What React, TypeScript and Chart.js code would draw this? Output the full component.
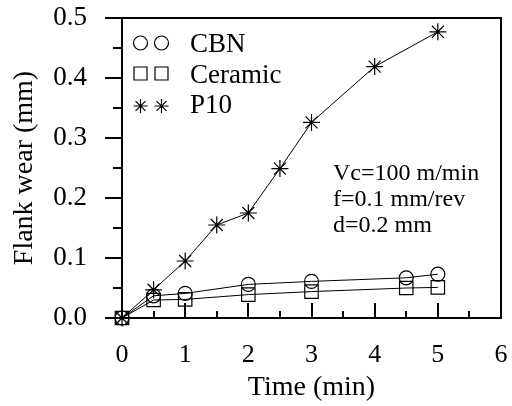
import { useEffect, useRef } from "react";
import { Chart, registerables } from "chart.js";

Chart.register(...registerables);

const cbnTime = [0, 0.5, 1, 2, 3, 4.5, 5];
const cbnWear = [0, 0.037, 0.041, 0.056, 0.061, 0.067, 0.073];
const ceramicTime = [0, 0.5, 1, 2, 3, 4.5, 5];
const ceramicWear = [0, 0.03, 0.031, 0.039, 0.044, 0.05, 0.051];
const p10Time = [0, 0.5, 1, 1.5, 2, 2.5, 3, 4, 5];
const p10Wear = [0, 0.047, 0.095, 0.155, 0.175, 0.249, 0.326, 0.419, 0.477];

const seriesNames = ["CBN", "Ceramic", "P10"];
const xMinorTicks = [0.5, 1, 1.5, 2, 2.5, 3, 3.5, 4, 4.5, 5, 5.5];
const yMinorTicks = [0.05, 0.15, 0.25, 0.35, 0.45];
const yMajorTicks = [0, 0.1, 0.2, 0.3, 0.4, 0.5];
const notes = ["Vc=100 m/min", "f=0.1 mm/rev", "d=0.2 mm"];

const FONT = "'Liberation Serif', 'Times New Roman', serif";

function drawMarker(ctx: CanvasRenderingContext2D, kind: string, x: number, y: number, r: number) {
  ctx.beginPath();
  if (kind === "circle") {
    ctx.arc(x, y, r, 0, Math.PI * 2);
  } else if (kind === "rect") {
    ctx.rect(x - r, y - r, 2 * r, 2 * r);
  } else {
    for (let i = 0; i < 4; i++) {
      const a = (i * Math.PI) / 4;
      ctx.moveTo(x - Math.cos(a) * r, y - Math.sin(a) * r);
      ctx.lineTo(x + Math.cos(a) * r, y + Math.sin(a) * r);
    }
  }
  ctx.stroke();
}

const framePlugin = {
  id: "frame",
  beforeDatasetsDraw(chart: any) {
    const { ctx, chartArea: a, scales } = chart;
    const xs = scales.x;
    const ys = scales.y;
    ctx.save();
    ctx.strokeStyle = "#000";
    ctx.lineWidth = 2;
    ctx.strokeRect(a.left, a.top, a.right - a.left, a.bottom - a.top);
    ctx.beginPath();
    for (const v of xMinorTicks) {
      const px = Math.round(xs.getPixelForValue(v));
      const len = Number.isInteger(v) ? 15 : 7;
      ctx.moveTo(px, a.bottom);
      ctx.lineTo(px, a.bottom - len);
    }
    for (const v of yMajorTicks) {
      const py = Math.round(ys.getPixelForValue(v));
      ctx.moveTo(a.left, py);
      ctx.lineTo(a.left - 17, py);
    }
    for (const v of yMinorTicks) {
      const py = Math.round(ys.getPixelForValue(v));
      ctx.moveTo(a.left, py);
      ctx.lineTo(a.left - 9, py);
    }
    ctx.stroke();

    // legend
    const kinds = ["circle", "rect", "star"];
    const markerY = [43, 73.5, 106];
    const textY = [52, 82.5, 113];
    const sizes = [7, 6.5, 7];
    ctx.lineWidth = 1.2;
    kinds.forEach((k, i) => {
      drawMarker(ctx, k, 140.5, markerY[i], sizes[i]);
      drawMarker(ctx, k, 161.5, markerY[i], sizes[i]);
    });
    ctx.fillStyle = "#000";
    ctx.font = `27px ${FONT}`;
    ctx.textBaseline = "alphabetic";
    ctx.textAlign = "left";
    seriesNames.forEach((n, i) => ctx.fillText(n, 190, textY[i]));

    // annotation
    ctx.font = `24px ${FONT}`;
    notes.forEach((t, i) => ctx.fillText(t, 333, 180 + i * 26));
    ctx.restore();
  },
};

export default function App() {
  const ref = useRef<HTMLCanvasElement | null>(null);
  useEffect(() => {
    document.body.style.margin = "0";
    const canvas = ref.current;
    if (!canvas) return;
    const common = {
      borderColor: "#000",
      borderWidth: 1,
      pointBorderColor: "#000",
      pointBackgroundColor: "rgba(0,0,0,0)",
      pointBorderWidth: 1.2,
      showLine: true,
      tension: 0,
      clip: false,
    };
    const chart = new Chart(canvas, {
      type: "scatter",
      data: {
        datasets: [
          {
            ...common,
            label: seriesNames[0],
            data: cbnTime.map((t, i) => ({ x: t, y: cbnWear[i] })),
            pointStyle: "circle",
            pointRadius: 7,
          },
          {
            ...common,
            label: seriesNames[1],
            data: ceramicTime.map((t, i) => ({ x: t, y: ceramicWear[i] })),
            pointStyle: "rect",
            pointRadius: 9.5,
          },
          {
            ...common,
            label: seriesNames[2],
            data: p10Time.map((t, i) => ({ x: t, y: p10Wear[i] })),
            pointStyle: "star",
            pointRadius: 8.5,
          },
        ],
      },
      options: {
        responsive: false,
        animation: false,
        layout: { padding: { top: 18, right: 11, left: 0, bottom: 0 } },
        plugins: { legend: { display: false }, tooltip: { enabled: false } },
        scales: {
          x: {
            type: "linear",
            min: 0,
            max: 6,
            grid: { display: false, drawTicks: false },
            border: { display: false },
            ticks: {
              stepSize: 1,
              color: "#000",
              font: { family: FONT, size: 26 },
              padding: 22,
              maxRotation: 0,
            },
            title: {
              display: true,
              text: "Time (min)",
              color: "#000",
              font: { family: FONT, size: 28 },
              padding: { top: 0, bottom: 2 },
            },
            afterFit: (s: any) => {
              s.height = 88;
              s.paddingLeft = 0;
              s.paddingRight = 0;
            },
          },
          y: {
            type: "linear",
            min: 0,
            max: 0.5,
            grid: { display: false, drawTicks: false },
            border: { display: false },
            ticks: {
              stepSize: 0.1,
              color: "#000",
              font: { family: FONT, size: 27 },
              padding: 35,
              callback: (v: any) => Number(v).toFixed(1),
            },
            title: {
              display: true,
              text: "Flank wear (mm)",
              color: "#000",
              font: { family: FONT, size: 28 },
              padding: { top: 8, bottom: 0 },
            },
            afterFit: (s: any) => {
              s.width = 122;
              s.paddingTop = 0;
              s.paddingBottom = 0;
            },
          },
        },
      },
      plugins: [framePlugin],
    } as any);
    return () => chart.destroy();
  }, []);
  return (
    <div style={{ position: "absolute", left: 0, top: 0, width: 512, height: 406 }}>
      <canvas ref={ref} width={512} height={406} style={{ width: 512, height: 406 }} />
    </div>
  );
}
